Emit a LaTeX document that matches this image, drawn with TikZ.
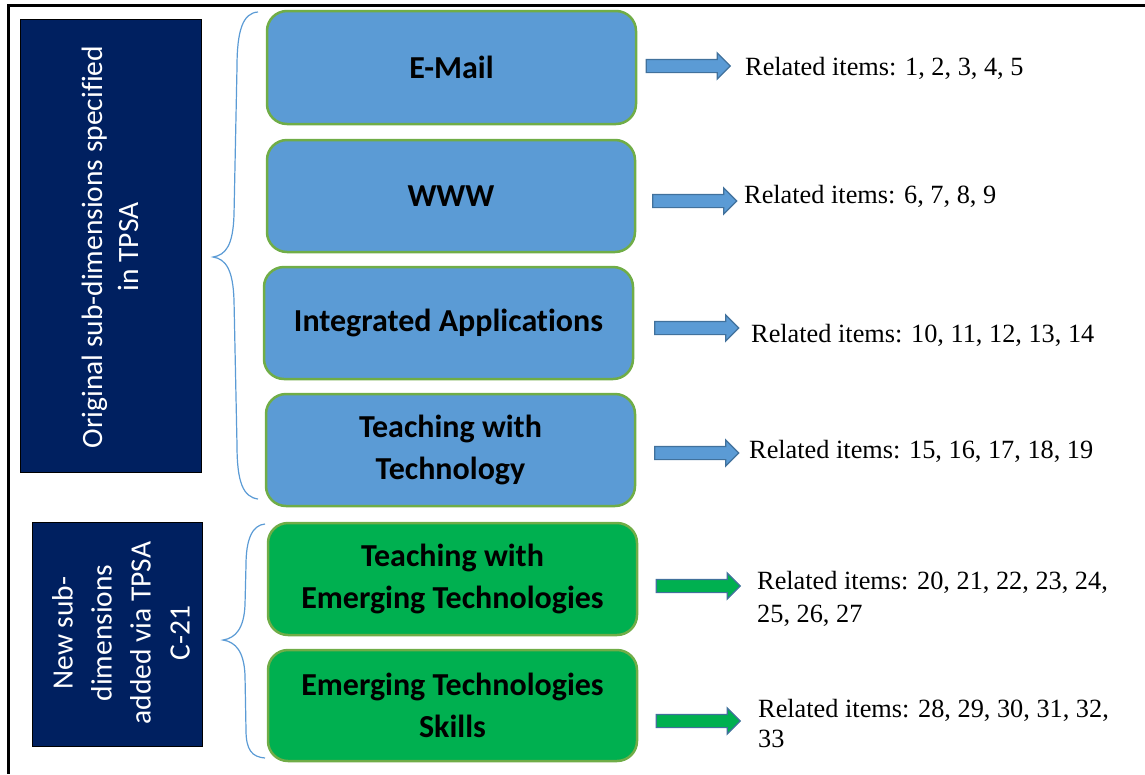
\documentclass[tikz,border=0pt]{standalone}
\usepackage{fontspec}
\setmainfont{Liberation Serif}
\newfontfamily\calfont[Ligatures=NoCommon]{Carlito}
\usetikzlibrary{shapes.arrows}
\definecolor{navy}{HTML}{002060}
\definecolor{boxblue}{HTML}{5B9BD5}
\definecolor{boxgreen}{HTML}{00B050}
\definecolor{edgegreen}{HTML}{70AD47}
\definecolor{arrowedge}{HTML}{41719C}
\begin{document}
\begin{tikzpicture}[x=1pt,y=-1pt,
 dimbox/.style={rectangle, rounded corners=20pt, draw=edgegreen, line width=2.5pt, inner sep=0pt, outer sep=0pt, align=center, font=\calfont\bfseries\fontsize{32}{42}\selectfont},
 bluebox/.style={dimbox, fill=boxblue},
 greenbox/.style={dimbox, fill=boxgreen},
 sidebox/.style={rectangle, fill=navy, draw=black, line width=1pt, inner sep=0pt, outer sep=0pt},
 sidetext/.style={text=white, rotate=90, align=center, inner sep=0pt},
 blockarrow/.style={single arrow, draw=arrowedge, line width=1.2pt, inner xsep=0pt, inner ysep=6pt, single arrow head extend=6.5pt, single arrow head indent=0pt, outer sep=0pt, minimum height=84pt},
 itemtext/.style={anchor=base west, inner sep=0pt, align=left},
 brace/.style={draw=boxblue, line width=1.2pt},
 frameline/.style={draw=black, line width=2.4pt}
]
\useasboundingbox (0,0) rectangle (1145,774);

% outer frame
\coordinate (fTL) at (8.5,5.5);
\coordinate (fTR) at (1145,5.5);
\coordinate (fBL) at (8.5,774);
\draw[frameline] (fTR) -- (fTL) -- (fBL);

% side boxes
\node[sidebox, minimum width=181pt, minimum height=453pt] (side1) at (110.5,245.5) {};
\node[sidetext, font=\calfont\fontsize{29.5}{36}\selectfont] (side1t) at (110,247) {Original sub-dimensions specified\\in TPSA};
\node[sidebox, minimum width=170pt, minimum height=224pt] (side2) at (117,634) {};
\node[sidetext, font=\calfont\fontsize{29.5}{39}\selectfont] (side2t) at (121,633) {New sub-\\dimensions\\added via TPSA\\C-21};

% braces
\draw[brace] (258,12) .. controls (243,13) and (237,30) .. (237,67)
  -- (234,215) .. controls (233,245) and (226,255) .. (213,257)
  .. controls (226,259) and (233,270) .. (234,300)
  -- (237,445) .. controls (237,482) and (243,497) .. (258,499);
\draw[brace] (265,524) .. controls (252,525) and (246,540) .. (246,565)
  -- (245,605) .. controls (244,628) and (236,638) .. (223,640)
  .. controls (236,642) and (244,652) .. (245,675)
  -- (246,730) .. controls (246,750) and (252,757) .. (265,758);

% dimension boxes
\node[bluebox, minimum width=369pt, minimum height=113pt] (b1) at (451.5,67.5) {E-Mail};
\node[bluebox, minimum width=368pt, minimum height=112pt] (b2) at (451,196) {WWW};
\node[bluebox, minimum width=369pt, minimum height=112pt] (b3) at (448.5,323) {Integrated Applications};
\node[bluebox, minimum width=369pt, minimum height=112pt] (b4) at (450.5,450) {Teaching with\\Technology};
\node[greenbox, minimum width=369pt, minimum height=112pt] (b5) at (452.5,579) {Teaching with\\Emerging Technologies};
\node[greenbox, minimum width=369pt, minimum height=111pt] (b6) at (452.5,705.5) {Emerging Technologies\\Skills};

% block arrows
\node[blockarrow, fill=boxblue] (a1) at (685,66) {};
\node[blockarrow, fill=boxblue] (a2) at (691.5,201) {};
\node[blockarrow, fill=boxblue] (a3) at (693.5,328) {};
\node[blockarrow, fill=boxblue] (a4) at (693.5,453) {};
\node[blockarrow, fill=boxgreen] (a5) at (695,586) {};
\node[blockarrow, fill=boxgreen] (a6) at (695,721) {};

% item labels
\node[itemtext, font=\fontsize{26.3}{32}\selectfont] (t1) at (745,75) {Related items: 1, 2, 3, 4, 5};
\node[itemtext, font=\fontsize{26.3}{32}\selectfont] (t2) at (744,203) {Related items: 6, 7, 8, 9};
\node[itemtext, font=\fontsize{26.3}{32}\selectfont] (t3) at (751,342) {Related items: 10, 11, 12, 13, 14};
\node[itemtext, font=\fontsize{26.3}{32}\selectfont] (t4) at (749,458) {Related items: 15, 16, 17, 18, 19};
\node[itemtext, font=\fontsize{26.3}{33}\selectfont] (t5) at (757,622) {Related items: 20, 21, 22, 23, 24,\\25, 26, 27};
\node[itemtext, font=\fontsize{26.3}{30}\selectfont] (t6) at (758,747) {Related items: 28, 29, 30, 31, 32,\\33};
\end{tikzpicture}
\end{document}
